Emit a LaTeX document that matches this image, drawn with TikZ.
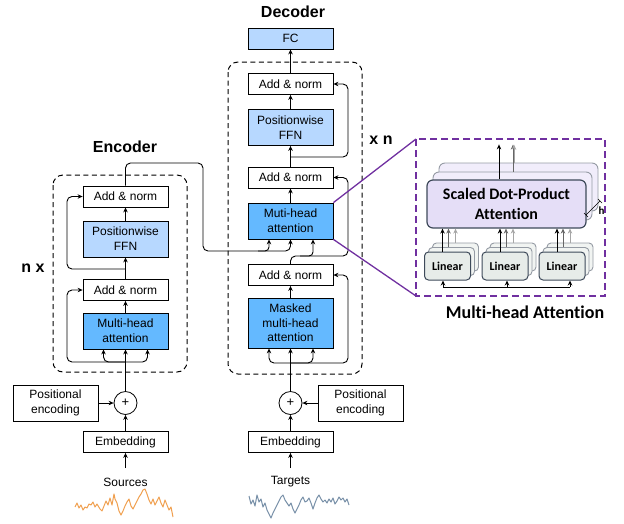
\documentclass[tikz,border=0pt]{standalone}
\usepackage{fontspec}
\setmainfont{Liberation Sans}
\newfontfamily\calfont[Ligatures=NoCommon]{Carlito}
\usetikzlibrary{arrows.meta}
\definecolor{mhablue}{RGB}{100,185,255}
\definecolor{lightblue}{RGB}{183,216,255}
\definecolor{purp}{RGB}{112,48,160}
\definecolor{lav}{RGB}{229,222,247}
\definecolor{slate}{RGB}{62,74,90}
\definecolor{lingray}{RGB}{231,236,233}
\definecolor{srcor}{RGB}{240,160,80}
\definecolor{tgtbl}{RGB}{120,144,168}
\begin{document}
\begin{tikzpicture}[x=1pt,y=-1pt,
  box/.style={draw, line width=0.8pt, minimum width=85pt, minimum height=21pt, inner sep=1pt, align=center, font=\fontsize{12}{15}\selectfont},
  tall/.style={box, minimum height=36pt},
  arr/.style={-{Stealth[length=5pt,width=4.5pt]}, line width=0.9pt},
  ln/.style={line width=0.9pt},
  dashbox/.style={draw, dash pattern=on 5pt off 3.5pt, line width=1pt, rounded corners=10pt},
  title/.style={font=\bfseries\fontsize{16}{18}\selectfont},
  plus/.style={circle, draw, line width=0.8pt, minimum size=23pt, inner sep=0pt, font=\fontsize{13}{13}\selectfont},
  lin/.style={draw=slate, fill=lingray, rounded corners=4pt, line width=1pt, minimum width=46pt, minimum height=28pt, inner sep=0pt},
  linb/.style={draw=slate!55, fill=lingray!60, rounded corners=4pt, line width=0.9pt, minimum width=46pt, minimum height=28pt, inner sep=0pt},
  sdb/.style={draw=slate!55, fill=lav!55, rounded corners=6pt, line width=0.9pt, minimum width=159pt, minimum height=48pt, inner sep=0pt},
]
\useasboundingbox (0,0) rectangle (624,523);

% ---------------- Encoder ----------------
\node[title] (enct) at (125,147) {Encoder};
\node[title] (nx) at (33,268) {n x};
\draw[dashbox] (53,175) rectangle (187,372);
\node[box] (ean2) at (125.5,196.5) {Add \& norm};
\node[tall, fill=lightblue] (effn) at (125.5,239) {Positionwise\\FFN};
\node[box] (ean1) at (125.5,290) {Add \& norm};
\node[tall, fill=mhablue] (emha) at (125.5,331) {Multi-head\\attention};
\node[plus] (eplus) at (125.5,403) {+};
\node[tall] (epe) at (55.5,403) {Positional\\encoding};
\node[box] (eemb) at (125.5,442) {Embedding};
\node[font=\fontsize{12}{14}\selectfont] (esrc) at (125.5,482) {Sources};
\coordinate (ein) at (125.5,468);

\draw[arr] (ein) -- (eemb.south);
\draw[arr] (eemb.north) -- (eplus.south);
\draw[arr] (epe.east) -- (eplus.west);
\draw[arr] (eplus.north) -- (emha.south);
\draw[arr] (emha.north) -- (ean1.south);
\draw[arr] (ean1.north) -- (effn.south);
\draw[arr] (effn.north) -- (ean2.south);
\coordinate (ebr) at (125.5,362);
\draw[arr, rounded corners=5pt] (ebr) -| ([xshift=-22pt]emha.south);
\draw[arr, rounded corners=5pt] (ebr) -| ([xshift=22pt]emha.south);
\draw[arr, rounded corners=5pt] (ebr) -| (67,320) |- (ean1.west);
\coordinate (ebr2) at (125.5,269);
\draw[arr, rounded corners=5pt] (ebr2) -| (67,230) |- (ean2.west);

% ---------------- Decoder ----------------
\node[title] (dect) at (293,12) {Decoder};
\node[title] (xn) at (381,140) {x n};
\draw[dashbox] (228,62) rectangle (362,374);
\node[box, fill=lightblue] (fc) at (290.5,38.5) {FC};
\node[box] (dan1) at (290.5,84) {Add \& norm};
\node[tall, fill=lightblue] (dffn) at (290.5,127.5) {Positionwise\\FFN};
\node[box] (dan2) at (290.5,177.5) {Add \& norm};
\node[tall, fill=mhablue] (dmha) at (290.5,221) {Muti-head\\attention};
\node[box] (dan3) at (290.5,275) {Add \& norm};
\node[box, fill=mhablue, minimum height=50pt, font=\fontsize{12}{14.5}\selectfont] (dmmha) at (290.5,323) {Masked\\multi-head\\attention};
\node[plus] (dplus) at (290.5,403) {+};
\node[tall] (dpe) at (360.5,403) {Positional\\encoding};
\node[box] (demb) at (290.5,442) {Embedding};
\node[font=\fontsize{12}{14}\selectfont] (dtgt) at (290.5,482) {Targets};
\coordinate (din) at (290.5,468);

\draw[arr] (din) -- (demb.south);
\draw[arr] (demb.north) -- (dplus.south);
\draw[arr] (dpe.west) -- (dplus.east);
\draw[arr] (dplus.north) -- (dmmha.south);
\draw[arr] (dmmha.north) -- (dan3.south);
\coordinate (dbr) at (290.5,363);
\draw[arr, rounded corners=5pt] (dbr) -| ([xshift=-21.5pt]dmmha.south);
\draw[arr, rounded corners=5pt] (dbr) -| ([xshift=22.5pt]dmmha.south);
\draw[arr, rounded corners=5pt] (dbr) -| (348,320) |- (dan3.east);
% encoder output into decoder attention
\draw[arr, rounded corners=5pt] (ean2.north) |- (203,163) |- (290.5,251) -- (dmha.south);
\draw[arr, rounded corners=4pt] (258,251) -| ([xshift=-21.5pt]dmha.south);
\draw[arr, rounded corners=5pt] (dan3.north) |- (348,256) |- (dan2.east);
\draw[arr, rounded corners=4pt] (300,256) -| ([xshift=22.5pt]dmha.south);
\draw[arr] (dmha.north) -- (dan2.south);
\draw[arr] (dan2.north) -- (dffn.south);
\coordinate (dbr2) at (290.5,157);
\draw[arr, rounded corners=5pt] (dbr2) -| (348,120) |- (dan1.east);
\draw[arr] (dffn.north) -- (dan1.south);
\draw[arr] (dan1.north) -- (fc.south);

% ---------------- Waves ----------------
\draw[srcor, line width=1pt, line join=round] plot coordinates {(75,507) (77,503) (79,508) (81,505) (83,510) (85,507) (87,508) (89,504) (91,505) (93,502) (95,507) (97,504) (100,509) (102,511) (104,506) (106,501) (108,505) (110,498) (112,505) (114,494) (115,499) (117,503) (119,511) (121,515) (123,511) (125,506) (127,502) (129,499) (131,506) (133,509) (135,505) (137,501) (139,497) (141,494) (143,490) (145,489) (147,494) (149,500) (151,504) (153,499) (155,505) (157,501) (159,497) (161,503) (163,507) (165,500) (167,505) (169,510) (171,507) (173,517)};
\draw[tgtbl, line width=1pt, line join=round] plot coordinates {(249,496) (251,504) (253,500) (255,506) (257,495) (259,502) (261,499) (263,507) (265,503) (267,510) (269,514) (271,518) (273,513) (275,509) (277,505) (279,501) (281,497) (283,495) (285,500) (287,503) (289,506) (291,503) (293,509) (295,513) (297,509) (299,505) (301,500) (303,497) (305,502) (307,501) (309,498) (311,503) (313,509) (315,503) (317,498) (319,495) (321,499) (323,502) (325,500) (327,503) (329,499) (331,502) (333,498) (335,504) (337,501) (339,497) (341,500) (343,498) (345,502) (347,499) (349,505)};

% ---------------- Multi-head attention panel ----------------
\draw[purp, line width=1.3pt] (dmha.north east) -- (416,139);
\draw[purp, line width=1.3pt] (dmha.south east) -- (416,296);
\draw[purp, line width=1.3pt, dash pattern=on 7pt off 4pt] (416,139) rectangle (605,296);

\node[sdb] (sd2) at (518.5,187) {};
\node[sdb] (sd1) at (512.5,196) {};
\node[draw=slate, fill=lav, rounded corners=6pt, line width=1.2pt, minimum width=159pt, minimum height=48pt, inner sep=0pt, align=center, font=\calfont\bfseries\fontsize{16}{20}\selectfont] (sdpa) at (506.5,204) {Scaled Dot-Product\\Attention};
\draw[arr, line width=1pt] ([xshift=-7.5pt]sdpa.north) -- ++(0,-35);
\draw[arr, line width=1pt, gray!80!black] ([xshift=0.5pt]sd1.north) -- ++(0,-27);
\draw[arr, line width=1pt, gray!70] ([xshift=-4.5pt]sd2.north) -- ++(0,-18);
\draw[line width=0.6pt] (586,215) -- (600,201);
\draw[line width=0.6pt] (584,213) -- (588,217);
\draw[line width=0.6pt] (598,199) -- (602,203);
\node[font=\calfont\bfseries\fontsize{11}{12}\selectfont, inner sep=0pt] (hlab) at (601.5,211) {h};

\foreach \cx/\nm in {447.5/la,505/lb,562/lc}{
  \node[linb] (\nm2) at ({\cx+8},257) {};
  \node[linb] (\nm1) at ({\cx+4},261.5) {};
  \node[lin, font=\calfont\bfseries\fontsize{12}{14}\selectfont] (\nm) at (\cx,266) {Linear};
  \draw[arr, line width=1pt] ([xshift=-5pt]\nm.north) -- ([xshift=-5pt]\nm.north |- sdpa.south);
  \draw[arr, line width=1pt, gray!80!black] ([xshift=-3pt]\nm1.north) -- ([xshift=-3pt]\nm1.north |- sdpa.south);
  \draw[arr, line width=1pt, gray!70] ([xshift=0pt]\nm2.north) -- ([xshift=0pt]\nm2.north |- sdpa.south);
}
\coordinate (lin0) at (507,287);
\draw[ln] ([xshift=-4.5pt]la.south |- lin0) -- ([xshift=8pt]lc.south |- lin0);
\draw[arr, line width=1pt] ([xshift=-4.5pt]la.south |- lin0) -- ([xshift=-4.5pt]la.south);
\draw[arr, line width=1pt] (lin0) -- (lin0 |- lb.south);
\draw[arr, line width=1pt] ([xshift=8pt]lc.south |- lin0) -- ([xshift=8pt]lc.south);
\node[font=\calfont\bfseries\fontsize{18}{20}\selectfont] (mhat) at (525,312) {Multi-head Attention};
\end{tikzpicture}
\end{document}
